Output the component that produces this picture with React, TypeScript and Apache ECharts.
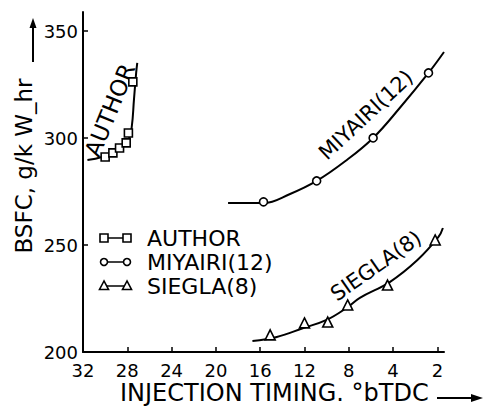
import React, { useEffect, useRef } from "react";
import * as echarts from "echarts";

// ---- Data ----
const xTickValues = [32, 28, 24, 20, 16, 12, 8, 4, 0];
const xTickLabels = ["32", "28", "24", "20", "16", "12", "8", "4", "2"];
const yTickValues = [200, 250, 300, 350];
const yTickLabels = ["200", "250", "300", "350"];

// AUTHOR (squares)
const authorPtX = [30.0, 29.3, 28.7, 28.1, 27.9, 27.5];
const authorPtY = [291.2, 293.1, 295.4, 297.8, 302.4, 326.3];
const authorFitX = [31.6, 30.3, 28.8, 27.9, 27.6, 27.4, 27.2, 27.1];
const authorFitY = [289.8, 291.2, 294.5, 299.2, 305.2, 317.9, 330.5, 335.2];

// MIYAIRI (12) (circles)
const miyairiPtX = [15.7, 10.9, 5.8, 0.8];
const miyairiPtY = [270.2, 280.0, 300.1, 330.5];
const miyairiFitX = [18.9, 15.7, 13.3, 10.9, 8.3, 5.8, 3.4, 0.8, -0.6];
const miyairiFitY = [269.7, 269.7, 273.9, 280.0, 289.3, 300.1, 314.1, 330.5, 340.3];

// SIEGLA (8) (triangles)
const sieglaPtX = [15.1, 12.0, 9.9, 8.1, 4.5, 0.2];
const sieglaPtY = [208.0, 213.6, 214.0, 222.0, 231.3, 252.4];
const sieglaFitX = [16.7, 14.5, 12.1, 10.0, 8.2, 7.0, 4.3, 1.8, -0.1, -0.5];
const sieglaFitY = [205.1, 207.0, 211.2, 215.0, 220.6, 225.3, 232.7, 243.0, 253.8, 258.0];

const seriesNames = ["AUTHOR", "MIYAIRI(12)", "SIEGLA(8)"];

const FONT = "DejaVu Sans";

function pairs(xs: number[], ys: number[]) {
  return xs.map((x, i) => [x, ys[i]]);
}

export default function App() {
  const ref = useRef<HTMLDivElement>(null);
  useEffect(() => {
    document.body.style.margin = "0";
    if (!ref.current) return;
    const chart = echarts.init(ref.current, null, { renderer: "svg" });
    const lineStyle = { color: "#000", width: 2 };
    const ptStyle = { color: "#fff", borderColor: "#000", borderWidth: 1.6, opacity: 1 };
    const fit = (name: string, xs: number[], ys: number[]) => ({
      type: "line",
      name,
      data: pairs(xs, ys),
      smooth: 0.4,
      showSymbol: false,
      lineStyle,
      silent: true,
      z: 2,
    });
    const pts = (name: string, xs: number[], ys: number[], symbol: string, size: number) => ({
      type: "scatter",
      name,
      data: pairs(xs, ys),
      symbol,
      symbolSize: size,
      itemStyle: ptStyle,
      emphasis: { disabled: true },
      z: 3,
    });

    const legendRows = [
      { y: 238, kind: "rect" },
      { y: 262, kind: "circle" },
      { y: 286, kind: "tri" },
    ];
    const legendGraphics: any[] = [];
    legendRows.forEach((r, i) => {
      const xs = [104, 127];
      legendGraphics.push({
        type: "line",
        shape: { x1: xs[0], y1: r.y, x2: xs[1], y2: r.y },
        style: { stroke: "#000", lineWidth: 1.5 },
      });
      xs.forEach((cx) => {
        if (r.kind === "rect") {
          legendGraphics.push({
            type: "rect",
            shape: { x: cx - 4, y: r.y - 4, width: 8, height: 8 },
            style: { fill: "#fff", stroke: "#000", lineWidth: 1.6 },
          });
        } else if (r.kind === "circle") {
          legendGraphics.push({
            type: "circle",
            shape: { cx, cy: r.y, r: 3.5 },
            style: { fill: "#fff", stroke: "#000", lineWidth: 1.6 },
          });
        } else {
          legendGraphics.push({
            type: "polygon",
            shape: { points: [[cx, r.y - 5], [cx - 4.5, r.y + 3.5], [cx + 4.5, r.y + 3.5]] },
            style: { fill: "#fff", stroke: "#000", lineWidth: 1.6 },
          });
        }
      });
      legendGraphics.push({
        type: "text",
        x: 147,
        y: r.y,
        style: {
          text: seriesNames[i],
          font: `22px "${FONT}"`,
          fill: "#000",
          textVerticalAlign: "middle",
          verticalAlign: "middle",
        },
      });
    });

    const curveLabel = (text: string, x: number, y: number, deg: number, size: number) => ({
      type: "text",
      x,
      y,
      rotation: (deg * Math.PI) / 180,
      style: {
        text,
        font: `${size}px "${FONT}"`,
        fill: "#000",
        align: "center",
        verticalAlign: "middle",
        textAlign: "center",
        textVerticalAlign: "middle",
      },
    });

    chart.setOption({
      animation: false,
      backgroundColor: "#fff",
      grid: { left: 83, right: 40, top: 12, bottom: 54, containLabel: false },
      xAxis: {
        type: "value",
        min: -0.6,
        max: 32,
        inverse: true,
        splitLine: { show: false },
        axisLine: { show: true, onZero: false, lineStyle: { color: "#000", width: 2 } },
        axisTick: {
          show: true,
          inside: true,
          length: 5,
          lineStyle: { color: "#000", width: 1.5 },
          customValues: xTickValues,
        },
        axisLabel: {
          customValues: xTickValues,
          formatter: (v: number) => {
            const i = xTickValues.indexOf(v);
            return i >= 0 ? xTickLabels[i] : "";
          },
          color: "#000",
          fontFamily: FONT,
          fontSize: 18,
          margin: 9,
        },
      },
      yAxis: {
        type: "value",
        min: 200,
        max: 359,
        splitLine: { show: false },
        axisLine: { show: true, onZero: false, lineStyle: { color: "#000", width: 2 } },
        axisTick: {
          show: true,
          inside: true,
          length: 5,
          lineStyle: { color: "#000", width: 1.5 },
          customValues: yTickValues,
        },
        axisLabel: {
          customValues: yTickValues,
          formatter: (v: number) => {
            const i = yTickValues.indexOf(v);
            return i >= 0 ? yTickLabels[i] : "";
          },
          color: "#000",
          fontFamily: FONT,
          fontSize: 18,
          margin: 5,
        },
      },
      series: [
        fit(seriesNames[0], authorFitX, authorFitY),
        pts(seriesNames[0], authorPtX, authorPtY, "rect", 8),
        fit(seriesNames[1], miyairiFitX, miyairiFitY),
        pts(seriesNames[1], miyairiPtX, miyairiPtY, "circle", 8),
        fit(seriesNames[2], sieglaFitX, sieglaFitY),
        pts(seriesNames[2], sieglaPtX, sieglaPtY, "triangle", 10),
      ],
      graphic: [
        // y axis title
        {
          type: "text",
          x: 24,
          y: 166,
          rotation: Math.PI / 2,
          style: {
            text: "BSFC, g/k W_hr",
            font: `23px "${FONT}"`,
            fill: "#000",
            align: "center",
            verticalAlign: "middle",
            textAlign: "center",
            textVerticalAlign: "middle",
          },
        },
        { type: "line", shape: { x1: 33, y1: 62, x2: 33, y2: 26 }, style: { stroke: "#000", lineWidth: 2 } },
        { type: "polygon", shape: { points: [[33, 18], [29.5, 28], [36.5, 28]] }, style: { fill: "#000" } },
        // x axis title
        {
          type: "text",
          x: 120,
          y: 393,
          style: {
            text: "INJECTION TIMING. °bTDC",
            font: `24px "${FONT}"`,
            fill: "#000",
            textVerticalAlign: "middle",
            verticalAlign: "middle",
          },
        },
        { type: "line", shape: { x1: 437, y1: 398, x2: 474, y2: 398 }, style: { stroke: "#000", lineWidth: 2 } },
        { type: "polygon", shape: { points: [[483, 398], [471, 394], [471, 402]] }, style: { fill: "#000" } },
        // curve labels
        curveLabel("AUTHOR", 110, 110, 68, 23),
        curveLabel("MIYAIRI(12)", 366, 115, 43, 21),
        curveLabel("SIEGLA(8)", 376, 266, 35, 21),
        ...legendGraphics,
      ],
    });
    return () => chart.dispose();
  }, []);
  return <div ref={ref} style={{ width: 484, height: 406 }} />;
}
